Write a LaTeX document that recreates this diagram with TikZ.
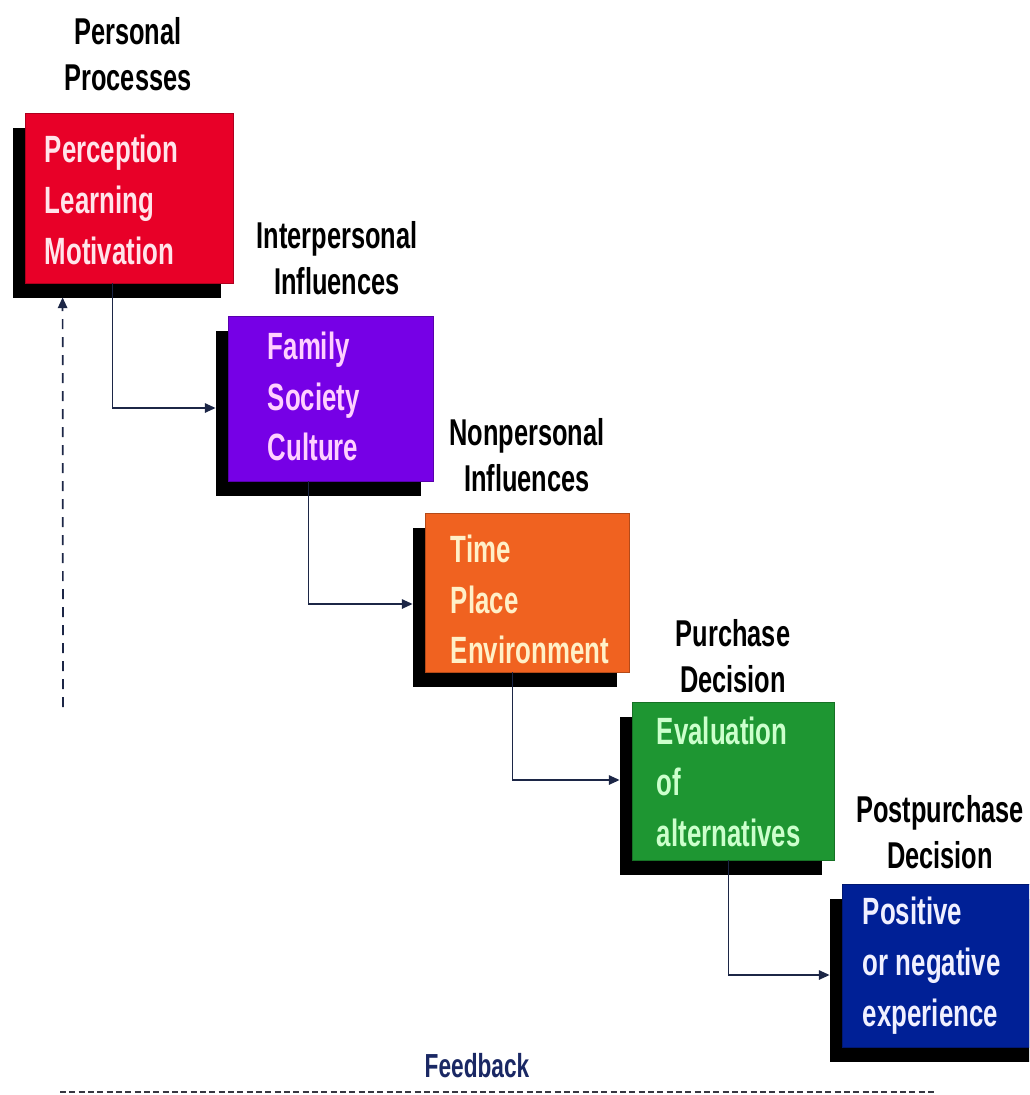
\documentclass[tikz,border=0pt]{standalone}
\usepackage{fontspec}
\setmainfont{Liberation Sans}[FakeStretch=0.68]
\usetikzlibrary{arrows.meta,calc,shadows}

\definecolor{boxred}{RGB}{232,0,40}
\definecolor{boxpurple}{RGB}{118,0,230}
\definecolor{boxorange}{RGB}{240,98,32}
\definecolor{boxgreen}{RGB}{30,150,50}
\definecolor{boxblue}{RGB}{0,32,150}
\definecolor{txtred}{RGB}{255,228,234}
\definecolor{txtpurple}{RGB}{255,208,255}
\definecolor{txtorange}{RGB}{255,240,200}
\definecolor{txtgreen}{RGB}{204,255,204}
\definecolor{txtblue}{RGB}{240,240,255}
\definecolor{linenavy}{RGB}{28,38,70}
\definecolor{fbnavy}{RGB}{26,40,100}
\definecolor{fbgray}{RGB}{55,55,65}

\begin{document}
\begin{tikzpicture}[x=0.75pt,y=-0.75pt,
  stagebox/.style={fill=#1, draw=#1!75!black, line width=0.6pt, inner sep=0pt,
    general shadow={fill=black, draw=none, shadow xshift=-9pt, shadow yshift=-11.25pt}},
  boxtext/.style={text=#1, anchor=west, align=left, inner sep=0pt,
    font=\bfseries\fontsize{28.5pt}{38pt}\selectfont},
  heading/.style={align=center, inner sep=0pt,
    font=\bfseries\fontsize{28pt}{35pt}\selectfont},
  conn/.style={draw=linenavy, line width=1.2pt, -{Triangle[length=8pt,width=7pt]}},
  fbup/.style={draw=linenavy, line width=1.3pt, dash pattern=on 7.5pt off 6pt,
    -{Triangle[length=8pt,width=7pt]}},
  fbline/.style={draw=fbgray, line width=1.8pt, dash pattern=on 4.5pt off 2.5pt}]

\path[use as bounding box, clip] (0,0) rectangle (1029,1095);

% stage boxes
\node[stagebox=boxred,    minimum width=156pt,    minimum height=127.5pt]  (b1) at (129,198)    {};
\node[stagebox=boxpurple, minimum width=153.75pt, minimum height=123.75pt] (b2) at (330.5,398.5) {};
\node[stagebox=boxorange, minimum width=153pt,    minimum height=119.25pt] (b3) at (527,592.5)  {};
\node[stagebox=boxgreen,  minimum width=151.5pt,  minimum height=118.5pt]  (b4) at (733,781)    {};
\node[stagebox=boxblue,   minimum width=152.25pt, minimum height=122.25pt] (b5) at (943.5,965.5) {};

% box contents
\node[boxtext=txtred]    (t1) at ($(b1.west)+(20,2)$)  {Perception\\Learning\\Motivation};
\node[boxtext=txtpurple] (t2) at ($(b2.west)+(40,-2)$) {Family\\Society\\Culture};
\node[boxtext=txtorange] (t3) at ($(b3.west)+(26,7)$)  {Time\\Place\\Environment};
\node[boxtext=txtgreen]  (t4) at ($(b4.west)+(25,1)$)  {Evaluation\\of\\alternatives};
\node[boxtext=txtblue]   (t5) at ($(b5.west)+(21,0)$)  {Positive\\or negative\\experience};

% headings
\node[heading] (h1) at (128,54)  {Personal\\Processes};
\node[heading] (h2) at (337,258) {Interpersonal\\Influences};
\node[heading] (h3) at (527,455) {Nonpersonal\\Influences};
\node[heading] (h4) at (733,656) {Purchase\\Decision};
\node[heading] (h5) at (940,832) {Postpurchase\\Decision};

% elbow connectors between stages
\draw[conn] ($(b1.south west)+(88,0)$) |- ($(b2.west)+(-12,9.5)$);
\draw[conn] ($(b2.south west)+(81,0)$) |- ($(b3.west)+(-12,11.5)$);
\draw[conn] ($(b3.south west)+(88,0)$) |- ($(b4.west)+(-12,-1)$);
\draw[conn] ($(b4.south west)+(97,0)$) |- ($(b5.west)+(-12,9.5)$);

% feedback loop
\coordinate (fbstart) at (63,707);
\draw[fbup] (fbstart) -- ($(b1.south west)+(38,14)$);
\coordinate (fbleft) at (60,1092);
\coordinate (fbright) at (937,1092);
\draw[fbline] (fbleft) -- (fbright);
\node[text=fbnavy, inner sep=0pt, font=\bfseries\fontsize{25pt}{30pt}\selectfont] (fb) at (477,1066) {Feedback};

\end{tikzpicture}
\end{document}
